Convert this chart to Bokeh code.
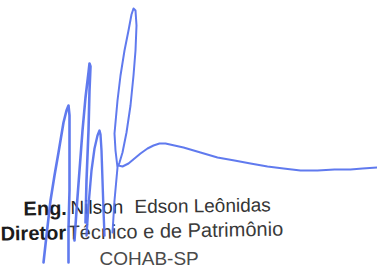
from bokeh.plotting import figure
from bokeh.models import Range1d
from bokeh.core.properties import value
from bokeh.embed import file_html
from bokeh.resources import INLINE

# Signature strokes (reference pixel coordinates)
stroke_a_x = [43, 46, 50, 54, 58, 63, 66, 68, 69, 69, 69, 68, 68]
stroke_a_y = [262, 235, 200, 175, 152, 122, 110, 105, 115, 150, 190, 228, 262]
stroke_b_x = [74, 76, 79, 82, 85, 88, 89, 90, 89, 88, 86, 85]
stroke_b_y = [240, 210, 170, 130, 97, 72, 63, 66, 90, 130, 180, 222]
stroke_c_x = [86, 88, 91, 94, 97, 99, 100, 101, 102, 103, 104]
stroke_c_y = [235, 205, 170, 148, 135, 130, 134, 150, 180, 210, 235]
stroke_d_x = [112, 114, 117, 115, 114, 117, 120, 124, 128, 131, 133, 135, 136, 135, 133, 130, 126, 122, 119, 118,
              122, 128, 134, 140, 147, 153, 159, 165, 174, 183, 200, 217, 234, 250, 267, 283, 300, 317, 334, 350, 362, 377]
stroke_d_y = [232, 200, 167, 150, 133, 100, 75, 50, 30, 14, 8, 10, 25, 50, 75, 105, 132, 152, 162, 165,
              166, 163, 158, 153, 148, 145, 143, 143, 145, 147, 152, 157, 160, 163, 166, 168, 170, 170, 169, 169, 168, 167]

# Text lines
line1_texts = ["Eng.", "Nilson", "Edson Leônidas"]
line1_x = [23, 70, 134]
line1_y = [208, 207, 206]
line2_texts = ["Diretor", "Técnico e de Patrimônio"]
line2_x = [0, 67]
line2_y = [233, 232]
line3_texts = ["COHAB-SP"]
line3_x = [99]
line3_y = [258]

p = figure(width=377, height=271, output_backend="svg", toolbar_location=None,
           x_range=Range1d(0, 377), y_range=Range1d(271, 0),
           min_border=0, background_fill_color="white", border_fill_color="white")
p.axis.visible = False
p.grid.visible = False
p.outline_line_color = None

font = value("Liberation Sans")

p.text(x=line1_x[0:1], y=line1_y[0:1], text=line1_texts[0:1], text_font=font, text_font_size="20px",
       text_font_style="bold", text_color="#1c1c1c", text_baseline="alphabetic", angle=0.012)
p.text(x=line1_x[1:2], y=line1_y[1:2], text=line1_texts[1:2], text_font=font, text_font_size="19px",
       text_color="#262626", text_baseline="alphabetic", angle=0.012)
p.text(x=line1_x[2:], y=line1_y[2:], text=line1_texts[2:], text_font=font, text_font_size="19px",
       text_color="#353535", text_baseline="alphabetic", angle=0.012)
p.text(x=line2_x[0:1], y=line2_y[0:1], text=line2_texts[0:1], text_font=font, text_font_size="20px",
       text_font_style="bold", text_color="#1c1c1c", text_baseline="alphabetic", angle=0.018)
p.text(x=line2_x[1:], y=line2_y[1:], text=line2_texts[1:], text_font=font, text_font_size="20px",
       text_color="#3a3a3a", text_baseline="alphabetic", angle=0.018)
p.text(x=line3_x, y=line3_y, text=line3_texts, text_font=font, text_font_size="19px",
       text_color="#4a4a4a", text_baseline="alphabetic", angle=0.0)

sig_color = "#4f6cec"
p.line(stroke_a_x, stroke_a_y, line_color=sig_color, line_width=2.6, line_alpha=0.9, line_join="round", line_cap="round")
p.line(stroke_b_x, stroke_b_y, line_color=sig_color, line_width=2.6, line_alpha=0.9, line_join="round", line_cap="round")
p.line(stroke_c_x, stroke_c_y, line_color=sig_color, line_width=2.4, line_alpha=0.9, line_join="round", line_cap="round")
p.line(stroke_d_x, stroke_d_y, line_color=sig_color, line_width=2.0, line_alpha=0.9, line_join="round", line_cap="round")

open("out.html", "w").write(file_html(p, INLINE))
